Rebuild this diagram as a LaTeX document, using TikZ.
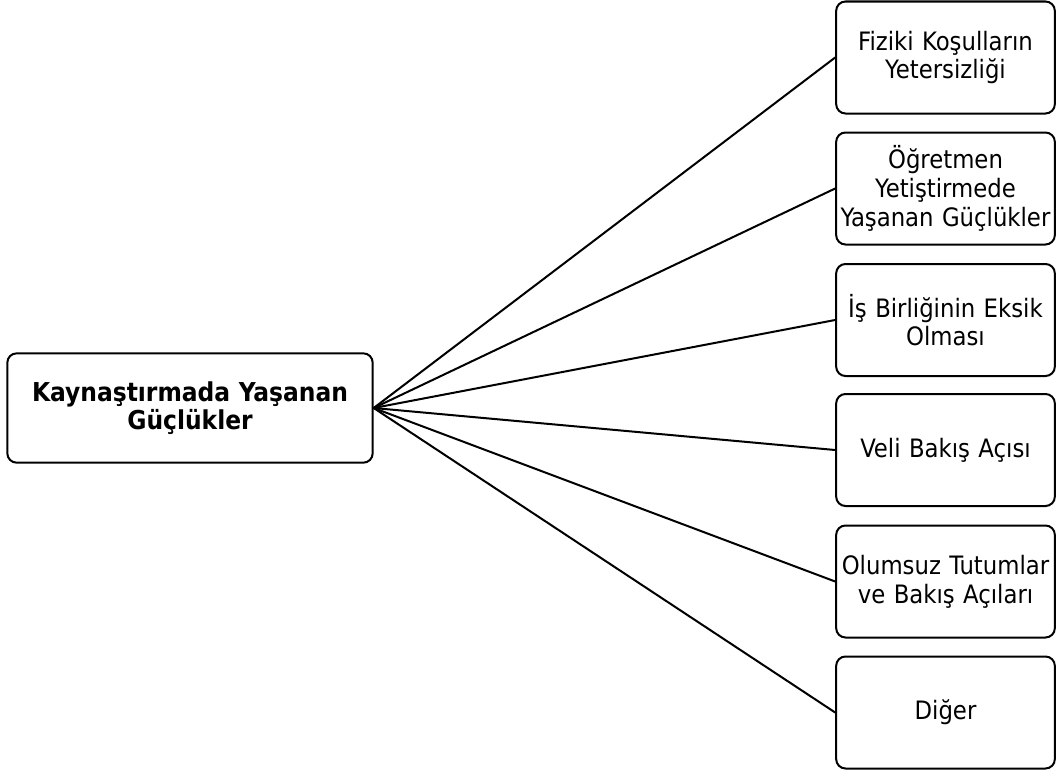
\documentclass[tikz,border=0pt]{standalone}
\usepackage{fontspec}
\setmainfont{DejaVu Sans Condensed}
\begin{document}
\begin{tikzpicture}[x=0.75pt,y=-0.75pt,
  box/.style={draw=black, line width=1.5pt, rounded corners=7pt, align=center,
    inner sep=0pt, font=\fontsize{19}{21.5}\selectfont},
  leaf/.style={box, minimum width=164pt, minimum height=84pt, text width=164pt},
  rootbox/.style={box, minimum width=274pt, minimum height=82pt, text width=270pt,
    font=\fontsize{19.5}{21}\selectfont\bfseries},
  link/.style={line width=1.5pt}]
\useasboundingbox (0,0) rectangle (1057,771);
\node[rootbox] (root) at (190,408) {Kaynaştırmada Yaşanan\\Güçlükler};
\node[leaf] (b1) at (945.5,57.5) {Fiziki Koşulların\\Yetersizliği};
\node[leaf] (b2) at (945.5,188.5) {Öğretmen\\Yetiştirmede\\Yaşanan Güçlükler};
\node[leaf] (b3) at (945.5,320) {İş Birliğinin Eksik\\Olması};
\node[leaf] (b4) at (945.5,450) {Veli Bakış Açısı};
\node[leaf] (b5) at (945.5,581.5) {Olumsuz Tutumlar\\ve Bakış Açıları};
\node[leaf] (b6) at (945.5,712.5) {Diğer};
\foreach \b in {b1,b2,b3,b4,b5,b6}
  \draw[link] (root.east) -- (\b.west);
\end{tikzpicture}
\end{document}
